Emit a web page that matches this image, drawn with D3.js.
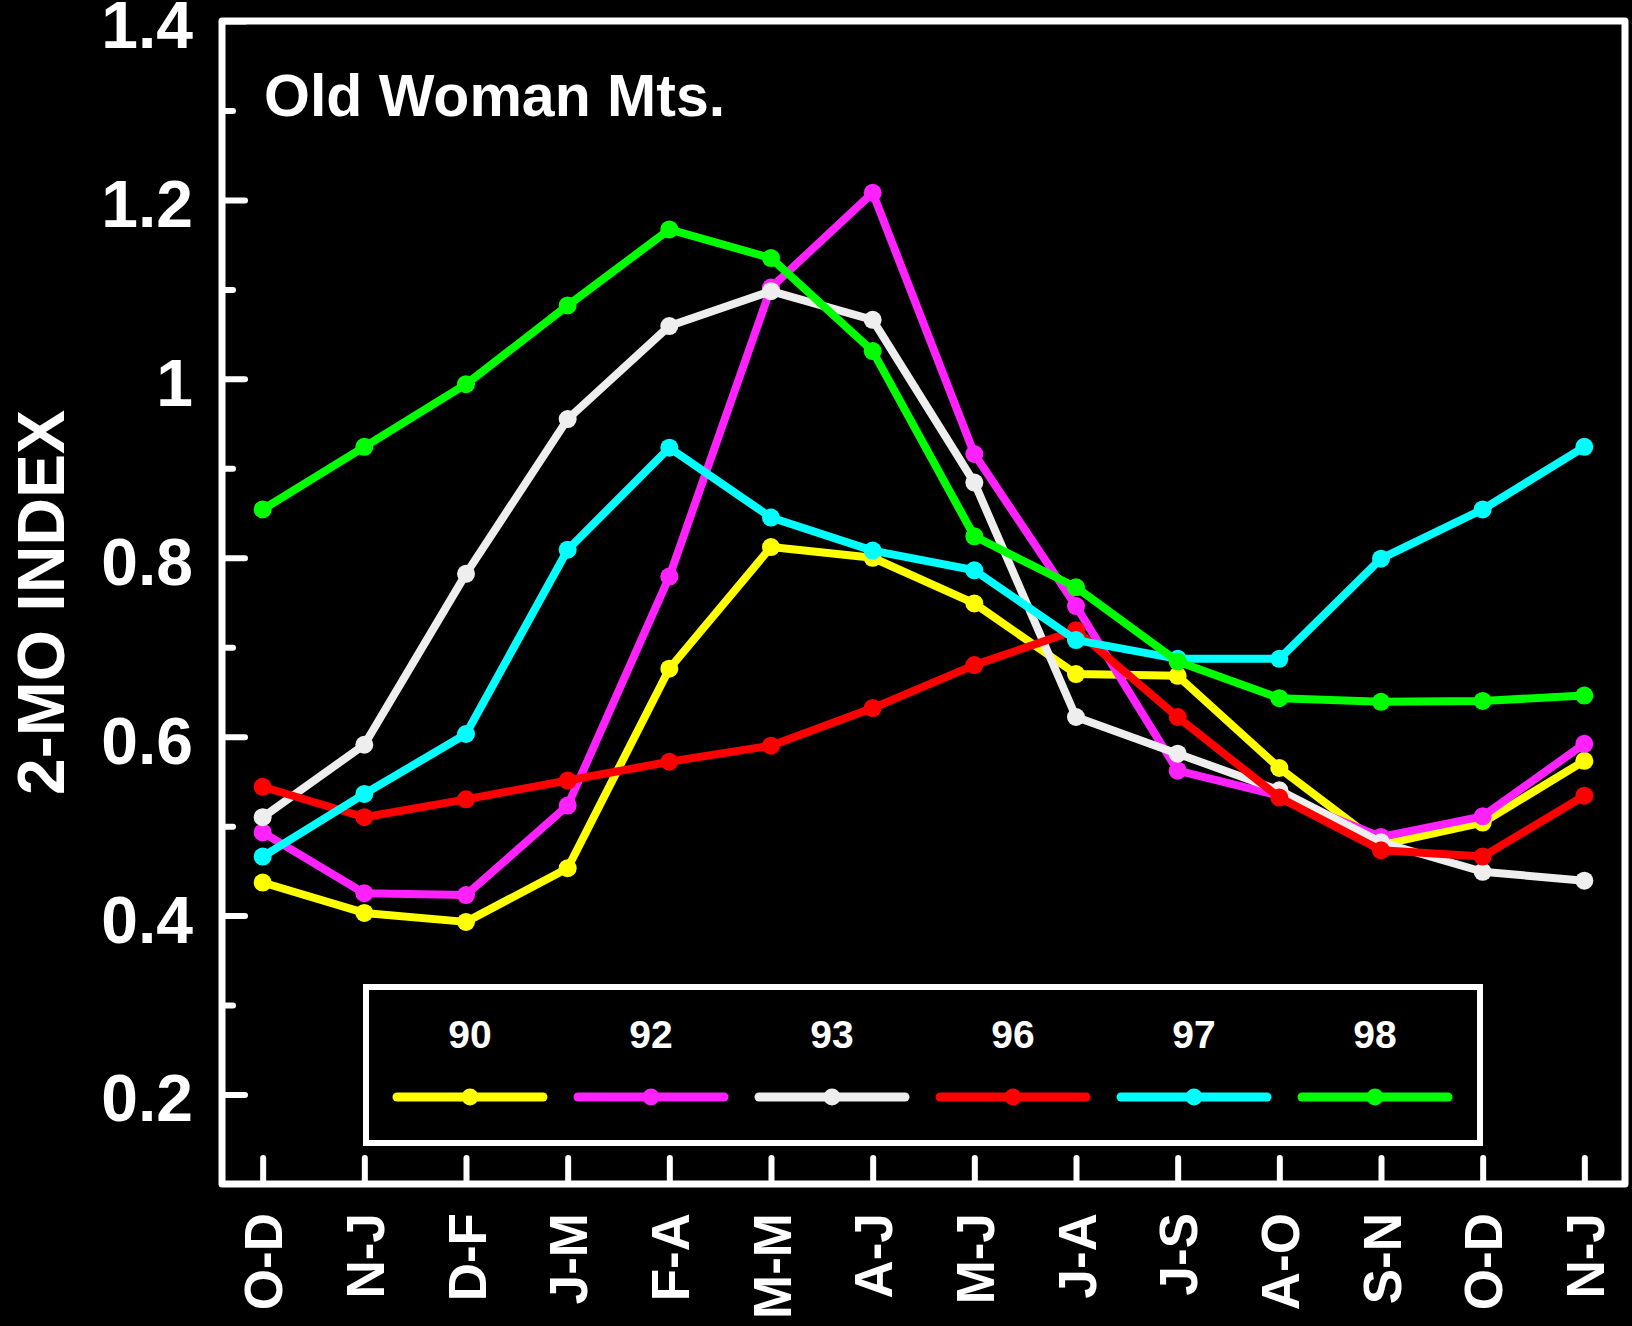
<!DOCTYPE html>
<html>
<head>
<meta charset="utf-8">
<script src="https://cdn.jsdelivr.net/npm/d3@7"></script>
<style>
  html, body { margin: 0; padding: 0; background: #000; }
  svg { display: block; }
  text { font-family: "Liberation Sans", Arial, Helvetica, sans-serif; font-weight: bold; fill: #fff; }
</style>
</head>
<body>
<svg id="chart" width="1632" height="1326"></svg>
<script>
// ---- data ----
const categories = ["O-D","N-J","D-F","J-M","F-A","M-M","A-J","M-J","J-A","J-S","A-O","S-N","O-D ","N-J "];
const categoryLabels = ["O-D","N-J","D-F","J-M","F-A","M-M","A-J","M-J","J-A","J-S","A-O","S-N","O-D","N-J"];
const seriesNames = ["90","92","93","96","97","98"];
const seriesColors = ["#ffff00","#ff22ff","#eeeeee","#ff0000","#00ffff","#00ff00"];
const y90 = [0.437,0.403,0.393,0.453,0.676,0.812,0.800,0.749,0.670,0.668,0.565,0.479,0.504,0.573];
const y92 = [0.493,0.425,0.423,0.523,0.779,1.102,1.208,0.916,0.746,0.562,0.534,0.488,0.511,0.592];
const y93 = [0.510,0.591,0.782,0.955,1.059,1.098,1.066,0.884,0.622,0.581,0.540,0.482,0.449,0.439];
const y96 = [0.544,0.510,0.530,0.551,0.572,0.590,0.632,0.680,0.719,0.622,0.532,0.473,0.466,0.534];
const y97 = [0.466,0.536,0.603,0.809,0.923,0.845,0.808,0.786,0.708,0.687,0.687,0.799,0.854,0.924];
const y98 = [0.854,0.924,0.994,1.082,1.167,1.135,1.031,0.824,0.767,0.684,0.643,0.639,0.640,0.646];
const seriesValues = [y90,y92,y93,y96,y97,y98];
const yMajorTicks = [0.2,0.4,0.6,0.8,1.0,1.2,1.4];
const yMajorLabels = ["0.2","0.4","0.6","0.8","1","1.2","1.4"];
const yMinorTicks = [0.3,0.5,0.7,0.9,1.1,1.3];
const chartTitle = "Old Woman Mts.";
const yTitle = "2-MO INDEX";

// ---- layout ----
const L = 222, R = 1625, T = 21, B = 1184;
const svg = d3.select("#chart");
svg.append("rect").attr("width",1632).attr("height",1326).attr("fill","#000");

const x = d3.scalePoint().domain(categories).range([L, R]).padding(0.4);
const y = d3.scaleLinear().domain([0.1, 1.4]).range([B, T]);

// y axis major
const yAxis = svg.append("g").attr("transform", `translate(${L},0)`)
  .call(d3.axisLeft(y).tickValues(yMajorTicks).tickSizeInner(-23).tickSizeOuter(0).tickPadding(29)
    .tickFormat((d,i) => yMajorLabels[i]));
yAxis.select(".domain").remove();
yAxis.selectAll("line").attr("stroke","#fff").attr("stroke-width",6).attr("stroke-linecap","round");
yAxis.selectAll("text").attr("font-size",66).attr("dy","0.4em").style("font-family",'"Liberation Sans", Arial, sans-serif').attr("fill","#fff");

// y axis minor
const yMinor = svg.append("g").attr("transform", `translate(${L},0)`)
  .call(d3.axisLeft(y).tickValues(yMinorTicks).tickSizeInner(-11).tickSizeOuter(0).tickFormat(""));
yMinor.select(".domain").remove();
yMinor.selectAll("line").attr("stroke","#fff").attr("stroke-width",6).attr("stroke-linecap","round");

// x axis
const xAxis = svg.append("g").attr("transform", `translate(0,${B})`)
  .call(d3.axisBottom(x).tickSizeInner(-26).tickSizeOuter(0).tickFormat((d,i) => categoryLabels[i]));
xAxis.select(".domain").remove();
xAxis.selectAll("line").attr("stroke","#fff").attr("stroke-width",6).attr("stroke-linecap","round");
xAxis.selectAll("text")
  .attr("font-size",53).attr("fill","#fff")
  .style("font-family",'"Liberation Sans", Arial, sans-serif')
  .attr("transform","rotate(-90)")
  .attr("x",-29).attr("y",0).attr("dy","0.36em")
  .style("text-anchor","end");

// frame
svg.append("rect").attr("x",L).attr("y",T).attr("width",R-L).attr("height",B-T)
  .attr("fill","none").attr("stroke","#fff").attr("stroke-width",7).attr("stroke-linejoin","round");

// series
const line = d3.line().x((d,i) => x(categories[i])).y(d => y(d));
seriesValues.forEach((vals, s) => {
  const g = svg.append("g");
  g.append("path").datum(vals).attr("d", line)
    .attr("fill","none").attr("stroke", seriesColors[s]).attr("stroke-width",8)
    .attr("stroke-linejoin","round").attr("stroke-linecap","round");
  g.selectAll("circle").data(vals).join("circle")
    .attr("cx",(d,i) => x(categories[i])).attr("cy", d => y(d)).attr("r",9)
    .attr("fill", seriesColors[s]);
});

// title
svg.append("text").attr("x",264).attr("y",116).attr("font-size",59).text(chartTitle);

// y title
svg.append("text").attr("transform",`translate(64,${(T+B)/2}) rotate(-90)`)
  .attr("text-anchor","middle").attr("font-size",66).text(yTitle);

// legend
const legX = 366, legY = 987, legW = 1480-366, legH = 1143-987;
svg.append("rect").attr("x",legX).attr("y",legY).attr("width",legW).attr("height",legH)
  .attr("fill","#000").attr("stroke","#fff").attr("stroke-width",6);
const legCenters = d3.scaleLinear().domain([0, seriesNames.length-1]).range([470, 1375]);
seriesNames.forEach((name, s) => {
  const cx = legCenters(s);
  svg.append("text").attr("x",cx).attr("y",1048).attr("text-anchor","middle")
    .attr("font-size",39).text(name);
  svg.append("line").attr("x1",cx-73).attr("x2",cx+73).attr("y1",1097).attr("y2",1097)
    .attr("stroke",seriesColors[s]).attr("stroke-width",9).attr("stroke-linecap","round");
  svg.append("circle").attr("cx",cx).attr("cy",1097).attr("r",8.5).attr("fill",seriesColors[s]);
});
</script>
</body>
</html>
